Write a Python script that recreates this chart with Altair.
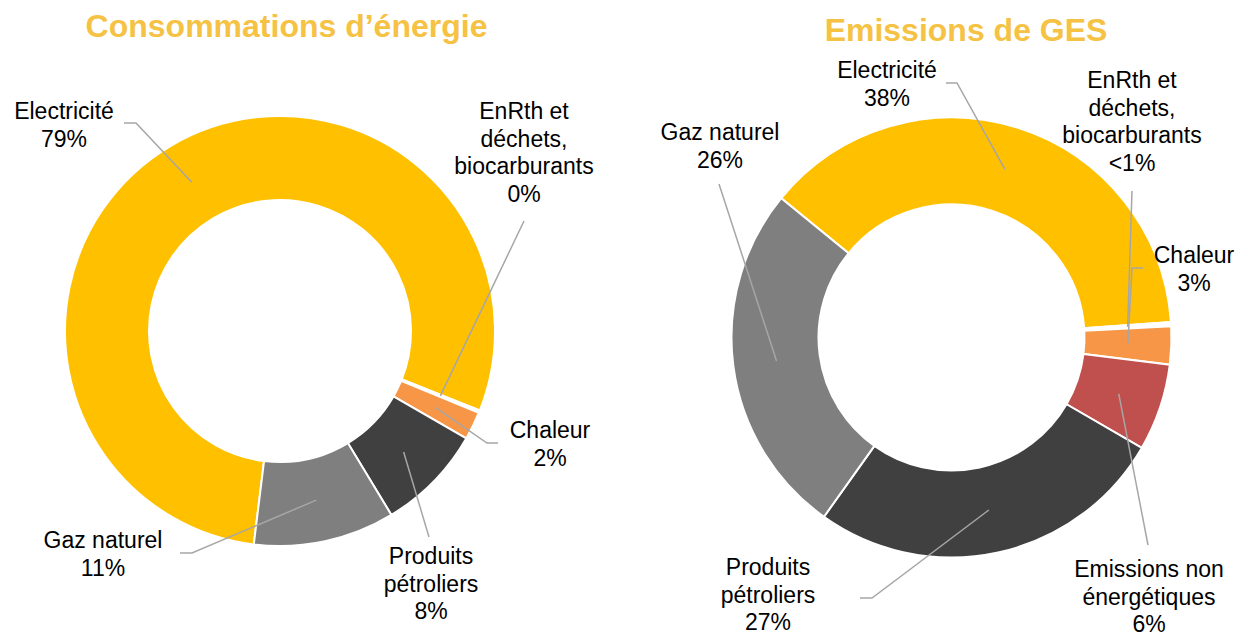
import math
import altair as alt
import pandas as pd

# ---------------- data ----------------
LEFT_TITLE = "Consommations d’énergie"
RIGHT_TITLE = "Emissions de GES"

LEFT_CATEGORIES = ["Electricité", "EnRth et déchets, biocarburants", "Chaleur",
                   "Produits pétroliers", "Gaz naturel"]
LEFT_VALUES = [79.0, 0.2, 2.1, 8.0, 10.6]
LEFT_PCT = ["79%", "0%", "2%", "8%", "11%"]
LEFT_NAMES = ["Electricité", "EnRth et\ndéchets,\nbiocarburants", "Chaleur",
              "Produits\npétroliers", "Gaz naturel"]

RIGHT_CATEGORIES = ["Electricité", "EnRth et déchets, biocarburants", "Chaleur",
                    "Emissions non énergétiques", "Produits pétroliers", "Gaz naturel"]
RIGHT_VALUES = [38.0, 0.3, 2.8, 6.4, 26.5, 26.1]
RIGHT_PCT = ["38%", "<1%", "3%", "6%", "27%", "26%"]
RIGHT_NAMES = ["Electricité", "EnRth et\ndéchets,\nbiocarburants", "Chaleur",
               "Emissions non\nénergétiques", "Produits\npétroliers", "Gaz naturel"]

COLOR_DOMAIN = ["Electricité", "EnRth et déchets, biocarburants", "Chaleur",
                "Emissions non énergétiques", "Produits pétroliers", "Gaz naturel"]
COLOR_RANGE = ["#FFC000", "#FFFFFF", "#F79646", "#C0504D", "#404040", "#7F7F7F"]

# ---------------- layout (page pixels) ----------------
PAGE = 8
W, H = 1232, 628
GOLD = "#F6C244"
LEADER = "#A6A6A6"
FONT = "Liberation Sans"

LEFT_GEO = dict(cx=280, cy=331, r_in=131, r_out=215, start=187.0)
RIGHT_GEO = dict(cx=951.5, cy=337.5, r_in=133, r_out=220, start=309.3)

LEFT_LABEL_X = [64, 524, 550, 431, 103]
LEFT_LABEL_Y = [119, 119, 438, 564, 548]
LEFT_LEADERS = [[(124, 123), (136, 123)], [(524, 221)], [(498, 443), (487, 443)],
                [(429, 537)], [(180, 553), (192, 553)]]

RIGHT_LABEL_X = [887, 1132, 1194, 1149, 768, 720]
RIGHT_LABEL_Y = [78, 88, 263, 577, 575, 140]
RIGHT_LEADERS = [[(946, 83), (957, 83)], [(1132, 191)], [(1143, 268), (1132, 268)],
                 [(1148, 545)], [(860, 598), (872, 598)], [(719, 184)]]

TITLE_X = [286.5, 966]
TITLE_Y = [37, 41]

XS = alt.Scale(domain=[0, W], range=[0, W], nice=False, zero=False)
YS = alt.Scale(domain=[0, H], range=[0, H], nice=False, zero=False)


def donut(tag, cats, vals, pcts, names, geo, lab_x, lab_y, leaders):
    total = sum(vals)
    s = math.radians(geo["start"])
    df = pd.DataFrame({"cat": cats, "v": vals, "idx": list(range(len(cats)))})
    arcs = alt.Chart(df).mark_arc(
        innerRadius=geo["r_in"], outerRadius=geo["r_out"], stroke="white", strokeWidth=2
    ).encode(
        theta=alt.Theta("v:Q", stack=True,
                        scale=alt.Scale(domain=[0, total], range=[s, s + 2 * math.pi])),
        order=alt.Order("idx:Q"),
        color=alt.Color("cat:N", scale=alt.Scale(domain=COLOR_DOMAIN, range=COLOR_RANGE),
                        legend=None),
        x=alt.value(geo["cx"] - PAGE),
        y=alt.value(geo["cy"] - PAGE),
    )

    rows = []
    cum = 0.0
    rm = (geo["r_in"] + geo["r_out"]) / 2
    for i, v in enumerate(vals):
        a = s + 2 * math.pi * (cum + v / 2) / total
        cum += v
        px = geo["cx"] + rm * math.sin(a)
        py = geo["cy"] - rm * math.cos(a)
        pts = list(leaders[i]) + [(px, py)]
        for j, (x, y) in enumerate(pts):
            rows.append({"key": f"{tag}{i}", "o": j, "x": x - PAGE, "y": y - PAGE})
    ldf = pd.DataFrame(rows)
    lines = alt.Chart(ldf).mark_line(color=LEADER, strokeWidth=1.5).encode(
        x=alt.X("x:Q", scale=XS, axis=None),
        y=alt.Y("y:Q", scale=YS, axis=None),
        detail="key:N",
        order="o:Q",
    )

    tdf = pd.DataFrame({
        "x": [x - PAGE for x in lab_x],
        "y": [y - PAGE for y in lab_y],
        "t": [n + "\n" + p for n, p in zip(names, pcts)],
    })
    texts = alt.Chart(tdf).mark_text(
        align="center", baseline="alphabetic", fontSize=23, font=FONT,
        lineBreak="\n", lineHeight=27.5, color="#000000"
    ).encode(
        x=alt.X("x:Q", scale=XS, axis=None),
        y=alt.Y("y:Q", scale=YS, axis=None),
        text="t:N",
    )
    return [arcs, lines, texts]


title_df = pd.DataFrame({
    "x": [x - PAGE for x in TITLE_X],
    "y": [y - PAGE for y in TITLE_Y],
    "t": [LEFT_TITLE, RIGHT_TITLE],
})
titles = alt.Chart(title_df).mark_text(
    align="center", baseline="alphabetic", fontSize=32, fontWeight="bold",
    font=FONT, color=GOLD
).encode(
    x=alt.X("x:Q", scale=XS, axis=None),
    y=alt.Y("y:Q", scale=YS, axis=None),
    text="t:N",
)

layers = donut("L", LEFT_CATEGORIES, LEFT_VALUES, LEFT_PCT, LEFT_NAMES, LEFT_GEO,
               LEFT_LABEL_X, LEFT_LABEL_Y, LEFT_LEADERS)
layers += donut("R", RIGHT_CATEGORIES, RIGHT_VALUES, RIGHT_PCT, RIGHT_NAMES, RIGHT_GEO,
                RIGHT_LABEL_X, RIGHT_LABEL_Y, RIGHT_LEADERS)
layers.append(titles)

chart = alt.layer(*layers).resolve_scale(theta="independent").properties(
    width=W, height=H, padding=0,
    autosize=alt.AutoSizeParams(type="none"),
    background="white",
).configure_view(stroke=None)

chart.save("out.html", embed_options={"renderer": "svg", "actions": False})
